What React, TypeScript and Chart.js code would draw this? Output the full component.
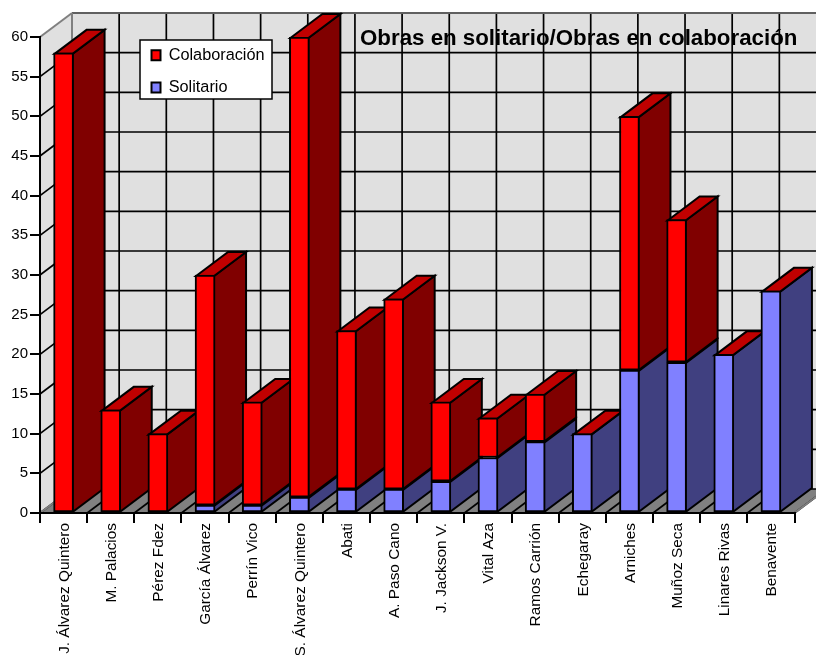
import React, { useEffect, useRef } from "react";
import { Chart, registerables } from "chart.js";

Chart.register(...registerables);

const categories = [
  "J. Álvarez Quintero", "M. Palacios", "Pérez Fdez", "García Álvarez",
  "Perrín Vico", "S. Álvarez Quintero", "Abati", "A. Paso Cano",
  "J. Jackson V.", "Vital Aza", "Ramos Carrión", "Echegaray",
  "Arniches", "Muñoz Seca", "Linares Rivas", "Benavente",
];
const solitario = [0, 0, 0, 1, 1, 2, 3, 3, 4, 7, 9, 10, 18, 19, 20, 28];
const colaboracion = [58, 13, 10, 29, 13, 58, 20, 24, 10, 5, 6, 0, 32, 18, 0, 0];
const TITLE = "Obras en solitario/Obras en colaboración";

const FONT = "'Liberation Sans', Arial, sans-serif";
const DX = 32;
const DY = 24;
const WALL = "#E0E0E0";
const FLOOR = "#808080";
const RED = "#FF0000";
const RED_SIDE = "#800000";
const RED_TOP = "#C00000";
const BLUE = "#8080FF";
const BLUE_SIDE = "#404080";

function poly(ctx: CanvasRenderingContext2D, pts: number[][], fill: string | null, stroke: string | null, lw = 2) {
  ctx.beginPath();
  pts.forEach((p, i) => (i ? ctx.lineTo(p[0], p[1]) : ctx.moveTo(p[0], p[1])));
  ctx.closePath();
  if (fill) { ctx.fillStyle = fill; ctx.fill(); }
  if (stroke) { ctx.strokeStyle = stroke; ctx.lineWidth = lw; ctx.lineJoin = "miter"; ctx.stroke(); }
}
function line(ctx: CanvasRenderingContext2D, x1: number, y1: number, x2: number, y2: number, c: string, lw: number) {
  ctx.beginPath();
  ctx.moveTo(x1, y1);
  ctx.lineTo(x2, y2);
  ctx.strokeStyle = c;
  ctx.lineWidth = lw;
  ctx.stroke();
}

const plugin3d = {
  id: "plugin3d",
  afterLayout(chart: any) {
    const leg = chart.legend;
    const p = leg.options.labels.padding;
    leg.left = 151.5 - p;
    leg.right = 272;
    leg.top = 47 - p;
    leg.bottom = 200;
    const t = chart.titleBlock;
    t.left = 360;
    t.right = 812;
    t.top = 25.6;
    t.bottom = 52.4;
  },
  beforeDraw(chart: any) {
    const ctx: CanvasRenderingContext2D = chart.ctx;
    const { x, y } = chart.scales;
    const L = x.left, R = x.right, T = y.top, B = y.bottom;
    ctx.save();
    // floor, walls
    poly(ctx, [[L, B], [L + DX, B - DY], [R + DX, B - DY], [R, B]], FLOOR, null);
    poly(ctx, [[L, T], [L + DX, T - DY], [L + DX, B - DY], [L, B]], WALL, null);
    poly(ctx, [[L + DX, T - DY], [R + DX, T - DY], [R + DX, B - DY], [L + DX, B - DY]], WALL, null);
    // value gridlines
    y.ticks.forEach((tk: any) => {
      const py = y.getPixelForValue(tk.value);
      if (tk.value === 60) return;
      line(ctx, L, py, L + DX, py - DY, "#000", 1.7);
      line(ctx, L + DX, py - DY, R + DX, py - DY, "#000", 1.7);
    });
    // category gridlines
    categories.forEach((_, i) => {
      const px = x.getPixelForValue(i + 0.5);
      line(ctx, px, B, px + DX, B - DY, "#000", 1.7);
      line(ctx, px + DX, B - DY, px + DX, T - DY, "#000", 1.7);
    });
    // wall outline
    line(ctx, L, T, L + DX, T - DY, FLOOR, 2);
    line(ctx, L + DX, T - DY, R + DX, T - DY, "#606060", 2);
    line(ctx, L + DX, T - DY, L + DX, B - DY, FLOOR, 2);
    line(ctx, L, B, L + DX, B - DY, FLOOR, 2);
    line(ctx, R, B, R + DX, B - DY, FLOOR, 2);
    // legend frame
    ctx.fillStyle = "#fff";
    ctx.fillRect(140, 40, 132, 59);
    ctx.strokeStyle = "#000";
    ctx.lineWidth = 1.5;
    ctx.strokeRect(140, 40, 132, 59);
    ctx.restore();
  },
  beforeDatasetsDraw(chart: any) {
    const ctx: CanvasRenderingContext2D = chart.ctx;
    const m0 = chart.getDatasetMeta(0).data;
    const m1 = chart.getDatasetMeta(1).data;
    ctx.save();
    categories.forEach((_, i) => {
      const segs = [
        { el: m0[i], v: solitario[i], c: BLUE_SIDE },
        { el: m1[i], v: colaboracion[i], c: RED_SIDE },
      ];
      let top = Infinity;
      let left = 0, right = 0;
      segs.forEach((s) => {
        const p = s.el.getProps(["x", "y", "base", "width"], true);
        left = p.x - p.width / 2 + 1;
        right = p.x + p.width / 2 - 1;
        if (!s.v) return;
        const yT = p.y + 1;
        const yB = p.base;
        top = Math.min(top, yT);
        poly(ctx, [[right, yT], [right + DX, yT - DY], [right + DX, yB - DY], [right, yB]], s.c, "#000");
      });
      poly(ctx, [[left, top], [left + DX, top - DY], [right + DX, top - DY], [right, top]], RED_TOP, "#000");
    });
    ctx.restore();
  },
};

export default function App() {
  const ref = useRef<HTMLCanvasElement>(null);
  useEffect(() => {
    const chart = new Chart(ref.current as HTMLCanvasElement, {
      type: "bar",
      data: {
        labels: categories,
        datasets: [
          { label: "Solitario", data: solitario, backgroundColor: BLUE, borderColor: "#000", borderWidth: 2, stack: "s", barThickness: 20, borderSkipped: false },
          { label: "Colaboración", data: colaboracion, backgroundColor: RED, borderColor: "#000", borderWidth: 2, stack: "s", barThickness: 20, borderSkipped: false },
        ],
      },
      options: {
        responsive: false,
        animation: false,
        devicePixelRatio: 1,
        layout: { padding: { left: 0, top: 0, right: 21.5, bottom: 0 } },
        plugins: {
          tooltip: { enabled: false },
          title: {
            display: true,
            text: TITLE,
            align: "start",
            color: "#000",
            font: { family: FONT, size: 22.3, weight: "bold", lineHeight: 1.2 },
            padding: { top: 0, bottom: 10.24 },
          },
          legend: {
            display: true,
            position: "chartArea",
            align: "start",
            reverse: true,
            labels: {
              boxWidth: 9,
              boxHeight: 10,
              padding: 16,
              color: "#000",
              font: { family: FONT, size: 16.3 },
            },
          },
        },
        scales: {
          x: {
            stacked: true,
            afterFit: (s: any) => { s.height = 142; },
            grid: { drawOnChartArea: false, drawTicks: true, tickLength: 10, color: "#000", lineWidth: 2, offset: true },
            border: { color: "#000", width: 2 },
            ticks: { autoSkip: false, minRotation: 90, maxRotation: 90, padding: 0, labelOffset: 1, color: "#000", font: { family: FONT, size: 15.4 } },
          },
          y: {
            stacked: true,
            min: 0,
            max: 60,
            afterFit: (s: any) => { s.width = 40; },
            grid: { drawOnChartArea: false, drawTicks: true, tickLength: 10, color: "#000", lineWidth: 2 },
            border: { color: "#000", width: 2 },
            ticks: { stepSize: 5, padding: 2, color: "#000", font: { family: FONT, size: 15 } },
          },
        },
      },
      plugins: [plugin3d],
    } as any);
    return () => chart.destroy();
  }, []);
  return (
    <div style={{ position: "absolute", left: 0, top: 0, width: 816, height: 655, overflow: "hidden", background: "#fff" }}>
      <canvas ref={ref} width={816} height={655} style={{ display: "block" }} />
    </div>
  );
}
